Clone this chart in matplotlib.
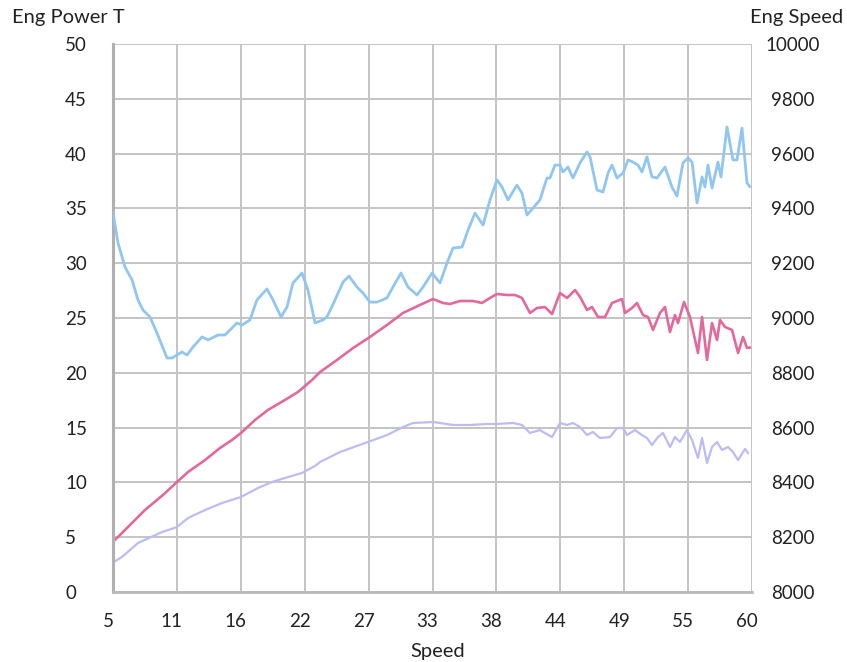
import matplotlib
matplotlib.use("Agg")
import matplotlib.pyplot as plt
from matplotlib.transforms import ScaledTranslation

# ---- data ----
speed_ticks = [5, 10.5, 16, 21.5, 27, 32.5, 38, 43.5, 49, 54.5, 60]
speed_tick_labels = ["5", "11", "16", "22", "27", "33", "38", "44", "49", "55", "60"]

eng_speed_x = [5.0, 5.43, 6.03, 6.64, 7.15, 7.58, 8.18, 8.79, 9.65, 10.08, 10.94, 11.37,
               11.89, 12.66, 13.18, 14.04, 14.64, 15.67, 16.10, 16.79, 17.39, 18.25, 18.77,
               19.46, 19.98, 20.49, 21.27, 21.78, 22.39, 23.07, 23.42, 24.11, 24.80, 25.31,
               26.00, 26.52, 27.12, 27.72, 28.58, 29.10, 29.79, 30.39, 31.17, 31.68, 32.46,
               33.15, 33.75, 34.26, 35.04, 35.56, 36.16, 36.85, 37.45, 38.05, 38.48, 39.00,
               39.77, 40.20, 40.63, 41.15, 41.75, 42.35, 42.61, 43.04, 43.47, 43.73, 44.16,
               44.59, 45.20, 45.80, 46.06, 46.66, 47.18, 47.61, 47.95, 48.38, 48.90, 49.33,
               49.76, 50.19, 50.53, 50.96, 51.39, 51.82, 52.51, 53.11, 53.54, 54.06, 54.49,
               54.84, 55.27, 55.70, 55.95, 56.21, 56.56, 57.07, 57.33, 57.85, 58.36, 58.71,
               59.14, 59.57, 59.8]
eng_speed = [9385, 9274, 9186, 9139, 9066, 9029, 9004, 8945, 8854, 8854, 8876, 8865,
             8894, 8931, 8920, 8938, 8938, 8982, 8974, 8993, 9066, 9106, 9066,
             9004, 9040, 9128, 9164, 9102, 8982, 8993, 9004, 9066, 9131, 9153,
             9113, 9091, 9058, 9058, 9073, 9113, 9164, 9113, 9084, 9113, 9164,
             9128, 9201, 9255, 9259, 9321, 9383, 9339, 9431, 9504, 9478, 9431,
             9485, 9456, 9376, 9401, 9431, 9511, 9511, 9558, 9558, 9533, 9551,
             9511, 9566, 9606, 9588, 9467, 9460, 9529, 9558, 9511, 9529, 9577,
             9569, 9558, 9533, 9588, 9515, 9511, 9551, 9478, 9445, 9566, 9584,
             9569, 9420, 9515, 9478, 9558, 9474, 9569, 9515, 9697, 9577, 9577,
             9693, 9493, 9480]

power_x = [5.0, 5.43, 6.29, 7.75, 9.30, 10.51, 11.46, 12.92, 14.21, 15.24, 16.02, 17.22,
           18.34, 19.80, 20.92, 22.13, 22.82, 24.28, 25.66, 27.12, 28.58, 29.96, 31.42,
           32.54, 33.40, 34.01, 34.87, 35.99, 36.76, 37.45, 38.05, 38.91, 39.60, 40.20,
           40.89, 41.49, 42.18, 42.79, 43.47, 44.08, 44.77, 45.20, 45.80, 46.23, 46.75,
           47.35, 47.95, 48.81, 49.07, 49.67, 50.10, 50.62, 51.05, 51.48, 52.08, 52.51,
           52.94, 53.37, 53.63, 54.15, 54.66, 55.35, 55.70, 56.13, 56.56, 56.99, 57.25,
           57.68, 58.28, 58.80, 59.23, 59.57, 59.8]
power = [4.6, 5.02, 5.93, 7.48, 8.85, 10.04, 10.95, 12.04, 13.14, 13.87, 14.51, 15.69,
         16.61, 17.52, 18.25, 19.34, 20.07, 21.17, 22.26, 23.27, 24.36, 25.46, 26.19,
         26.73, 26.37, 26.28, 26.55, 26.55, 26.37, 26.83, 27.19, 27.10, 27.10, 26.83,
         25.46, 25.91, 26.00, 25.36, 27.28, 26.83, 27.55, 26.92, 25.73, 26.00, 25.09,
         25.09, 26.37, 26.73, 25.46, 25.91, 26.37, 25.27, 25.09, 23.91, 25.46, 26.00,
         23.72, 25.27, 24.54, 26.46, 25.09, 21.81, 25.09, 21.17, 24.54, 22.99, 24.82,
         24.18, 23.91, 21.81, 23.27, 22.26, 22.3]

torque_x = [5.0, 5.77, 7.15, 9.22, 10.51, 11.46, 12.92, 14.38, 16.02, 17.48, 18.69, 19.80,
            21.27, 22.39, 22.82, 24.54, 26.95, 28.58, 29.96, 30.82, 32.54, 33.15, 34.26,
            35.73, 37.19, 38.05, 39.43, 40.20, 40.89, 41.75, 42.01, 42.79, 43.47, 44.08,
            44.59, 45.20, 45.80, 46.31, 46.92, 47.78, 48.38, 48.90, 49.24, 49.93, 50.53,
            50.96, 51.39, 51.91, 52.34, 52.94, 53.37, 53.80, 54.40, 54.84, 55.35, 55.70,
            56.13, 56.56, 56.99, 57.42, 57.94, 58.36, 58.80, 59.40, 59.66]
torque = [2.7, 3.19, 4.47, 5.47, 5.93, 6.75, 7.48, 8.12, 8.67, 9.49, 10.04, 10.40,
          10.86, 11.50, 11.86, 12.77, 13.69, 14.32, 15.05, 15.42, 15.51, 15.42, 15.24,
          15.24, 15.33, 15.33, 15.42, 15.24, 14.51, 14.78, 14.60, 14.14, 15.42, 15.24,
          15.42, 15.05, 14.32, 14.60, 14.05, 14.14, 14.96, 14.96, 14.32, 14.78, 14.32,
          14.05, 13.41, 14.14, 14.51, 13.23, 14.14, 13.69, 14.78, 13.87, 12.23, 14.05,
          11.77, 13.23, 13.69, 12.96, 13.23, 12.77, 12.04, 13.05, 12.68]

# ---- figure ----
W, H, DPI = 847, 662, 100
fig = plt.figure(figsize=(W / DPI, H / DPI), dpi=DPI)
plt.rcParams['font.family'] = ['Lato', 'DejaVu Sans']

left, right, top, bottom = 113, 752, 44, 592
ax = fig.add_axes([left / W, 1 - bottom / H, (right - left) / W, (bottom - top) / H])
ax2 = ax.twinx()

grid_c = "#c4c4c4"
text_c = "#222222"
fs = 13.5

ax.set_xlim(5, 60)
ax.set_ylim(0, 50)
ax2.set_ylim(8000, 10000)

ax.set_xticks(speed_ticks)
ax.set_xticklabels(speed_tick_labels)
ax.set_yticks(range(0, 51, 5))
ax2.set_yticks(range(8000, 10001, 200))

ax.grid(True, color=grid_c, linewidth=1.4)
ax.set_axisbelow(True)

for a in (ax, ax2):
    for s in a.spines.values():
        s.set_visible(False)
    a.tick_params(length=0, labelsize=fs, colors=text_c)

ax.spines['left'].set_visible(True)
ax.spines['left'].set_color("#b0b0b0")
ax.spines['left'].set_linewidth(2.2)
ax.spines['bottom'].set_visible(True)
ax.spines['bottom'].set_color("#bababa")
ax.spines['bottom'].set_linewidth(2.0)

ax.tick_params(axis='y', pad=34.5)
for lab in ax.get_yticklabels():
    lab.set_horizontalalignment('left')
ax2.tick_params(axis='y', pad=29.5)
for lab in ax2.get_yticklabels():
    lab.set_horizontalalignment('center')
ax.tick_params(axis='x', pad=15)
shift = ScaledTranslation(-5 / DPI, 0, fig.dpi_scale_trans)
for lab in ax.get_xticklabels():
    lab.set_transform(lab.get_transform() + shift)

# ---- series ----
ax.plot(torque_x, torque, color="#bcbcf3", linewidth=1.6, solid_joinstyle='round')
ax.plot(power_x, power, color="#e3689b", linewidth=1.9, solid_joinstyle='round')
ax2.plot(eng_speed_x, eng_speed, color="#90c6f0", linewidth=2.0, solid_joinstyle='round')

# ---- labels ----
fig.text(12 / W, 1 - 17 / H, "Eng Power T", fontsize=14.5, color=text_c, ha='left', va='center')
fig.text(843 / W, 1 - 17 / H, "Eng Speed", fontsize=14.5, color=text_c, ha='right', va='center')
fig.text(438 / W, 1 - 651 / H, "Speed", fontsize=14.5, color=text_c, ha='center', va='center')

fig.savefig("out.png", dpi=DPI, facecolor="white")
